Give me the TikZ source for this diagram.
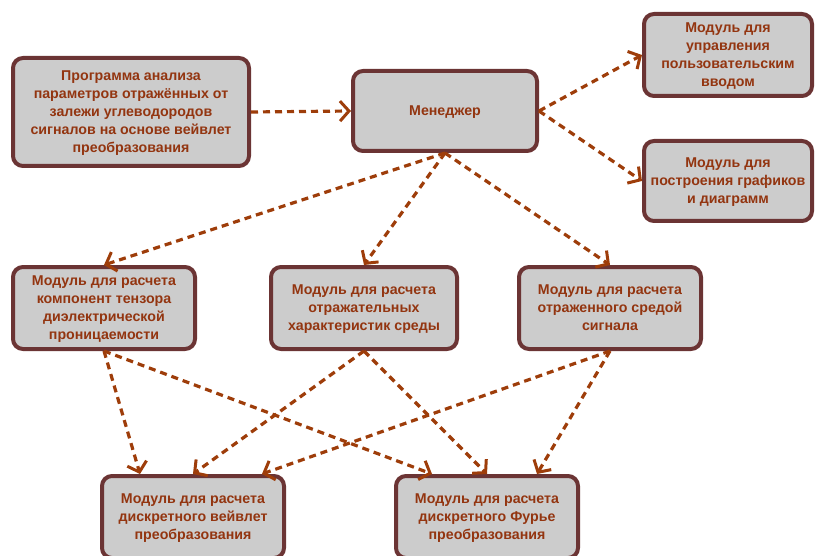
\documentclass[tikz,border=0pt]{standalone}
\usepackage{fontspec}
\setmainfont{Liberation Sans}
\usepackage{xcolor}
\usetikzlibrary{arrows.meta,positioning}
\definecolor{boxfill}{HTML}{CCCCCC}
\definecolor{boxline}{HTML}{6B3434}
\definecolor{boxtext}{HTML}{933510}
\definecolor{linkcol}{HTML}{9E3D0A}

\begin{document}
\begin{tikzpicture}[
    x=1pt, y=-1pt,
    module/.style={
        rectangle,
        draw=boxline,
        line width=4pt,
        rounded corners=10pt,
        fill=boxfill,
        align=center,
        font=\fontsize{14.2}{18}\selectfont\bfseries,
        text=boxtext,
        text depth=-3pt,
        inner sep=1pt
    },
    link/.style={
        line width=3.2pt,
        draw=linkcol,
        dash pattern=on 7pt off 5pt,
        -{Straight Barb[length=9pt,width=20pt,line width=3pt]}
    }
]
\clip (0,0) rectangle (819,556);
\useasboundingbox (0,0) rectangle (819,556);

% ============================================================
% NODES
% ============================================================

% top row
\node[module, minimum width=236pt, minimum height=108pt] (prog) at (131,112)
    {Программа анализа\\параметров отражённых от\\залежи углеводородов\\сигналов на основе вейвлет\\преобразования};
\node[module, minimum width=184pt, minimum height=80pt] (mgr) at (445,111) {Менеджер};
\node[module, minimum width=168pt, minimum height=82pt] (input) at (728,55)
    {Модуль для\\управления\\пользовательским\\вводом};
\node[module, minimum width=168pt, minimum height=80pt] (plots) at (728,181)
    {Модуль для\\построения графиков\\и диаграмм};

% middle row
\node[module, minimum width=182pt, minimum height=82pt] (tensor) at (104,308)
    {Модуль для расчета\\компонент тензора\\диэлектрической\\проницаемости};
\node[module, minimum width=186pt, minimum height=82pt] (refl) at (364,308)
    {Модуль для расчета\\отражательных\\характеристик среды};
\node[module, minimum width=182pt, minimum height=82pt] (signal) at (610,308)
    {Модуль для расчета\\отраженного средой\\сигнала};

% bottom row
\node[module, minimum width=182pt, minimum height=82pt] (wavelet) at (193,517)
    {Модуль для расчета\\дискретного вейвлет\\преобразования};
\node[module, minimum width=182pt, minimum height=82pt] (fourier) at (487,517)
    {Модуль для расчета\\дискретного Фурье\\преобразования};

% ============================================================
% LINKS
% ============================================================

% program -> manager -> interface modules
\draw[link] (prog.east) -- (mgr.west);
\draw[link] (mgr.east) -- (input.west);
\draw[link] (mgr.east) -- (plots.west);

% manager -> computing modules
\draw[link] (mgr.south) -- (tensor.north);
\draw[link] (mgr.south) -- (refl.north);
\draw[link] (mgr.south) -- (signal.north);

% computing modules -> transforms
\draw[link] (tensor.south) -- ([xshift=-53pt]wavelet.north);
\draw[link] (tensor.south) -- ([xshift=-55pt]fourier.north);
\draw[link] (refl.south) -- (wavelet.north);
\draw[link] (refl.south) -- (fourier.north);
\draw[link] (signal.south) -- ([xshift=69pt]wavelet.north);
\draw[link] (signal.south) -- ([xshift=50pt]fourier.north);

\end{tikzpicture}
\end{document}
